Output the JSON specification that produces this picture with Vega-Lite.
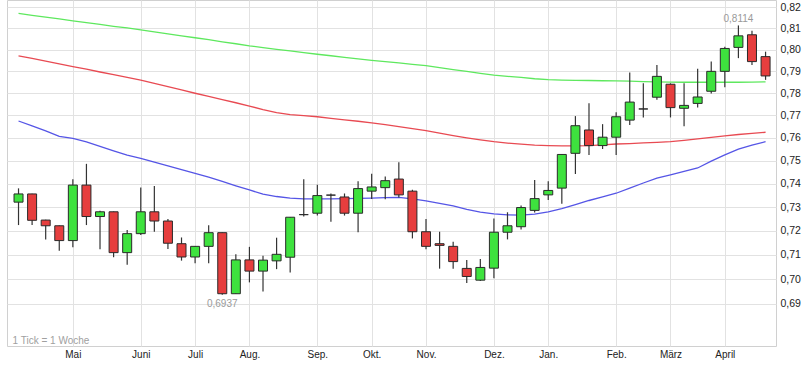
{
  "$schema": "https://vega.github.io/schema/vega-lite/v6.json",
  "width": 769,
  "height": 346,
  "autosize": {"type": "none"},
  "padding": {"left": 7, "top": 0, "right": 36, "bottom": 21},
  "background": "white",
  "config": {
    "view": {"stroke": "#d0d0d0"},
    "font": "Liberation Sans",
    "axis": {"gridColor": "#e2e2e2", "gridWidth": 1, "domain": false, "ticks": false, "title": null, "labelColor": "#222", "labelFont": "Liberation Sans"}
  },
  "data": {"values": [
    {"w":0,"o":0.7321,"h":0.7380,"l":0.7224,"c":0.7356,"ma1":0.7675,"ma2":0.7972,"ma3":0.8171},
    {"w":1,"o":0.7356,"h":0.7357,"l":0.7224,"c":0.7244,"ma1":0.7653,"ma2":0.7960,"ma3":0.8162},
    {"w":2,"o":0.7245,"h":0.7246,"l":0.7164,"c":0.7221,"ma1":0.7631,"ma2":0.7947,"ma3":0.8153},
    {"w":3,"o":0.7221,"h":0.7222,"l":0.7117,"c":0.7159,"ma1":0.7607,"ma2":0.7934,"ma3":0.8145},
    {"w":4,"o":0.7159,"h":0.7419,"l":0.7131,"c":0.7394,"ma1":0.7598,"ma2":0.7922,"ma3":0.8136},
    {"w":5,"o":0.7394,"h":0.7486,"l":0.7224,"c":0.7260,"ma1":0.7582,"ma2":0.7910,"ma3":0.8127},
    {"w":6,"o":0.7260,"h":0.7284,"l":0.7123,"c":0.7280,"ma1":0.7563,"ma2":0.7897,"ma3":0.8119},
    {"w":7,"o":0.7280,"h":0.7281,"l":0.7090,"c":0.7109,"ma1":0.7543,"ma2":0.7885,"ma3":0.8110},
    {"w":8,"o":0.7109,"h":0.7203,"l":0.7059,"c":0.7188,"ma1":0.7524,"ma2":0.7872,"ma3":0.8102},
    {"w":9,"o":0.7188,"h":0.7384,"l":0.7182,"c":0.7280,"ma1":0.7510,"ma2":0.7860,"ma3":0.8093},
    {"w":10,"o":0.7280,"h":0.7390,"l":0.7196,"c":0.7241,"ma1":0.7493,"ma2":0.7845,"ma3":0.8084},
    {"w":11,"o":0.7241,"h":0.7250,"l":0.7124,"c":0.7148,"ma1":0.7477,"ma2":0.7830,"ma3":0.8074},
    {"w":12,"o":0.7146,"h":0.7172,"l":0.7076,"c":0.7091,"ma1":0.7461,"ma2":0.7815,"ma3":0.8065},
    {"w":13,"o":0.7091,"h":0.7136,"l":0.7065,"c":0.7135,"ma1":0.7445,"ma2":0.7800,"ma3":0.8056},
    {"w":14,"o":0.7135,"h":0.7223,"l":0.7065,"c":0.7192,"ma1":0.7428,"ma2":0.7786,"ma3":0.8047},
    {"w":15,"o":0.7192,"h":0.7193,"l":0.6937,"c":0.6941,"ma1":0.7410,"ma2":0.7771,"ma3":0.8037},
    {"w":16,"o":0.6941,"h":0.7102,"l":0.6940,"c":0.7079,"ma1":0.7391,"ma2":0.7757,"ma3":0.8028},
    {"w":17,"o":0.7079,"h":0.7133,"l":0.6987,"c":0.7033,"ma1":0.7373,"ma2":0.7742,"ma3":0.8018},
    {"w":18,"o":0.7033,"h":0.7096,"l":0.6950,"c":0.7078,"ma1":0.7355,"ma2":0.7726,"ma3":0.8010},
    {"w":19,"o":0.7075,"h":0.7171,"l":0.7041,"c":0.7102,"ma1":0.7345,"ma2":0.7713,"ma3":0.8002},
    {"w":20,"o":0.7090,"h":0.7258,"l":0.7027,"c":0.7257,"ma1":0.7338,"ma2":0.7704,"ma3":0.7995},
    {"w":21,"o":0.7268,"h":0.7419,"l":0.7260,"c":0.7268,"ma1":0.7335,"ma2":0.7699,"ma3":0.7987},
    {"w":22,"o":0.7274,"h":0.7396,"l":0.7264,"c":0.7349,"ma1":0.7335,"ma2":0.7694,"ma3":0.7979},
    {"w":23,"o":0.7351,"h":0.7358,"l":0.7238,"c":0.7351,"ma1":0.7335,"ma2":0.7687,"ma3":0.7972},
    {"w":24,"o":0.7343,"h":0.7358,"l":0.7264,"c":0.7274,"ma1":0.7336,"ma2":0.7680,"ma3":0.7965},
    {"w":25,"o":0.7274,"h":0.7411,"l":0.7194,"c":0.7379,"ma1":0.7337,"ma2":0.7674,"ma3":0.7958},
    {"w":26,"o":0.7368,"h":0.7443,"l":0.7334,"c":0.7386,"ma1":0.7338,"ma2":0.7667,"ma3":0.7951},
    {"w":27,"o":0.7383,"h":0.7431,"l":0.7333,"c":0.7413,"ma1":0.7340,"ma2":0.7659,"ma3":0.7945},
    {"w":28,"o":0.7420,"h":0.7493,"l":0.7341,"c":0.7352,"ma1":0.7341,"ma2":0.7650,"ma3":0.7939},
    {"w":29,"o":0.7368,"h":0.7374,"l":0.7168,"c":0.7196,"ma1":0.7335,"ma2":0.7641,"ma3":0.7932},
    {"w":30,"o":0.7196,"h":0.7250,"l":0.7123,"c":0.7135,"ma1":0.7326,"ma2":0.7632,"ma3":0.7926},
    {"w":31,"o":0.7146,"h":0.7196,"l":0.7043,"c":0.7139,"ma1":0.7316,"ma2":0.7621,"ma3":0.7917},
    {"w":32,"o":0.7135,"h":0.7154,"l":0.7043,"c":0.7072,"ma1":0.7305,"ma2":0.7610,"ma3":0.7908},
    {"w":33,"o":0.7044,"h":0.7079,"l":0.6984,"c":0.7011,"ma1":0.7290,"ma2":0.7600,"ma3":0.7900},
    {"w":34,"o":0.6996,"h":0.7083,"l":0.6993,"c":0.7048,"ma1":0.7279,"ma2":0.7591,"ma3":0.7891},
    {"w":35,"o":0.7045,"h":0.7252,"l":0.7004,"c":0.7194,"ma1":0.7271,"ma2":0.7583,"ma3":0.7883},
    {"w":36,"o":0.7194,"h":0.7278,"l":0.7164,"c":0.7221,"ma1":0.7267,"ma2":0.7577,"ma3":0.7877},
    {"w":37,"o":0.7217,"h":0.7307,"l":0.7205,"c":0.7298,"ma1":0.7266,"ma2":0.7572,"ma3":0.7872},
    {"w":38,"o":0.7286,"h":0.7416,"l":0.7277,"c":0.7336,"ma1":0.7270,"ma2":0.7568,"ma3":0.7866},
    {"w":39,"o":0.7352,"h":0.7411,"l":0.7330,"c":0.7371,"ma1":0.7280,"ma2":0.7566,"ma3":0.7862},
    {"w":40,"o":0.7381,"h":0.7528,"l":0.7314,"c":0.7527,"ma1":0.7293,"ma2":0.7565,"ma3":0.7860},
    {"w":41,"o":0.7532,"h":0.7697,"l":0.7442,"c":0.7654,"ma1":0.7310,"ma2":0.7565,"ma3":0.7859},
    {"w":42,"o":0.7635,"h":0.7755,"l":0.7525,"c":0.7566,"ma1":0.7328,"ma2":0.7566,"ma3":0.7858},
    {"w":43,"o":0.7566,"h":0.7661,"l":0.7551,"c":0.7603,"ma1":0.7343,"ma2":0.7569,"ma3":0.7857},
    {"w":44,"o":0.7603,"h":0.7714,"l":0.7525,"c":0.7694,"ma1":0.7359,"ma2":0.7573,"ma3":0.7856},
    {"w":45,"o":0.7679,"h":0.7895,"l":0.7657,"c":0.7760,"ma1":0.7381,"ma2":0.7575,"ma3":0.7855},
    {"w":46,"o":0.7729,"h":0.7845,"l":0.7691,"c":0.7729,"ma1":0.7403,"ma2":0.7578,"ma3":0.7853},
    {"w":47,"o":0.7782,"h":0.7929,"l":0.7770,"c":0.7877,"ma1":0.7424,"ma2":0.7580,"ma3":0.7852},
    {"w":48,"o":0.7841,"h":0.7845,"l":0.7691,"c":0.7735,"ma1":0.7438,"ma2":0.7583,"ma3":0.7851},
    {"w":49,"o":0.7732,"h":0.7845,"l":0.7652,"c":0.7745,"ma1":0.7453,"ma2":0.7589,"ma3":0.7850},
    {"w":50,"o":0.7754,"h":0.7912,"l":0.7735,"c":0.7783,"ma1":0.7468,"ma2":0.7596,"ma3":0.7850},
    {"w":51,"o":0.7809,"h":0.7945,"l":0.7799,"c":0.7900,"ma1":0.7498,"ma2":0.7602,"ma3":0.7850},
    {"w":52,"o":0.7900,"h":0.8014,"l":0.7827,"c":0.8006,"ma1":0.7525,"ma2":0.7609,"ma3":0.7850},
    {"w":53,"o":0.8011,"h":0.8114,"l":0.7961,"c":0.8065,"ma1":0.7550,"ma2":0.7615,"ma3":0.7850},
    {"w":54,"o":0.8070,"h":0.8089,"l":0.7929,"c":0.7945,"ma1":0.7568,"ma2":0.7620,"ma3":0.7851},
    {"w":55,"o":0.7968,"h":0.7991,"l":0.7861,"c":0.7879,"ma1":0.7583,"ma2":0.7625,"ma3":0.7852}
  ]},
  "encoding": {
    "x": {
      "field": "w", "type": "quantitative", "title": null,
      "scale": {"domain": [-0.48, 55.4], "nice": false, "zero": false},
      "axis": {
        "values": [4, 9, 13, 17, 22, 26, 30, 35, 39, 44, 48, 52],
        "labelExpr": "['Mai','Juni','Juli','Aug.','Sep.','Okt.','Nov.','Dez.','Jan.','Feb.','März','April'][indexof([4,9,13,17,22,26,30,35,39,44,48,52], datum.value)]",
        "labelFontSize": 10, "labelPadding": 3, "labelFlush": false, "labelOverlap": false, "grid": true
      }
    }
  },
  "layer": [
    {
      "mark": {"type": "line", "color": "#5ee85e", "strokeWidth": 1.3},
      "encoding": {
        "y": {
          "field": "ma3", "type": "quantitative", "title": null,
          "scale": {"type": "log", "domain": [0.6733, 0.8235], "nice": false, "zero": false},
          "axis": {
            "orient": "right",
            "values": [0.69, 0.70, 0.71, 0.72, 0.73, 0.74, 0.75, 0.76, 0.77, 0.78, 0.79, 0.80, 0.81, 0.82],
            "labelExpr": "replace(format(datum.value, '.2f'), '.', ',')",
            "labelFontSize": 10.5, "labelPadding": 4, "labelOverlap": false, "labelFlush": false, "grid": true
          }
        }
      }
    },
    {
      "mark": {"type": "line", "color": "#e84a52", "strokeWidth": 1.3},
      "encoding": {"y": {"field": "ma2", "type": "quantitative", "title": null}}
    },
    {
      "mark": {"type": "line", "color": "#5555e6", "strokeWidth": 1.3},
      "encoding": {"y": {"field": "ma1", "type": "quantitative", "title": null}}
    },
    {
      "mark": {"type": "rule", "color": "#333333", "strokeWidth": 1.2},
      "encoding": {
        "y": {"field": "l", "type": "quantitative", "title": null},
        "y2": {"field": "h"}
      }
    },
    {
      "mark": {"type": "bar", "size": 9, "stroke": "#2a2a2a", "strokeWidth": 1},
      "encoding": {
        "y": {"field": "o", "type": "quantitative", "title": null},
        "y2": {"field": "c"},
        "fill": {"condition": {"test": "datum.c >= datum.o", "value": "#3ee23e"}, "value": "#e63e3e"}
      }
    },
    {
      "transform": [
        {"joinaggregate": [{"op": "max", "field": "h", "as": "maxH"}]},
        {"filter": "datum.h == datum.maxH"},
        {"calculate": "replace(format(datum.h, '.4f'), '.', ',')", "as": "lab"}
      ],
      "mark": {"type": "text", "color": "#9a9a9a", "fontSize": 10, "baseline": "bottom", "dy": -1},
      "encoding": {
        "y": {"field": "h", "type": "quantitative", "title": null},
        "text": {"field": "lab"}
      }
    },
    {
      "transform": [
        {"joinaggregate": [{"op": "min", "field": "l", "as": "minL"}]},
        {"filter": "datum.l == datum.minL"},
        {"calculate": "replace(format(datum.l, '.4f'), '.', ',')", "as": "lab"}
      ],
      "mark": {"type": "text", "color": "#9a9a9a", "fontSize": 10, "baseline": "top", "dy": 4},
      "encoding": {
        "y": {"field": "l", "type": "quantitative", "title": null},
        "text": {"field": "lab"}
      }
    },
    {
      "transform": [{"filter": "datum.w == 0"}],
      "mark": {"type": "text", "color": "#a0a0a0", "fontSize": 10, "align": "left", "baseline": "middle", "text": "1 Tick = 1 Woche"},
      "encoding": {
        "x": {"datum": -0.44, "type": "quantitative"},
        "y": {"datum": 0.6753, "type": "quantitative"}
      }
    }
  ]
}
